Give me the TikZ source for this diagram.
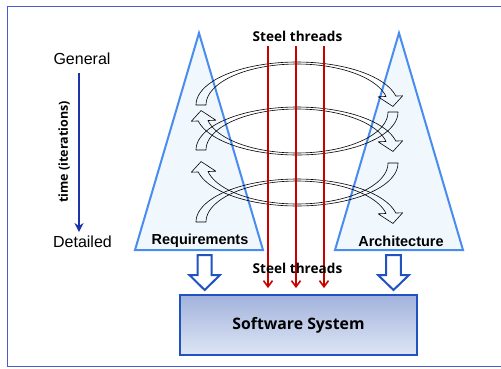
\documentclass[tikz,border=0pt]{standalone}
\usepackage{fontspec}
\setmainfont{Liberation Sans}
\newfontfamily\notofont{Open Sans}
\usetikzlibrary{arrows.meta}
\definecolor{framec}{RGB}{70,92,205}
\definecolor{triedge}{RGB}{72,140,240}
\definecolor{trifill}{RGB}{240,247,253}
\definecolor{steelred}{RGB}{200,0,0}
\definecolor{timeblue}{RGB}{28,52,170}
\definecolor{blkblue}{RGB}{32,82,192}
\definecolor{boxtop}{RGB}{162,178,220}
\definecolor{boxbot}{RGB}{222,230,245}
\newcommand\bandup[1]{%
  \draw[band] plot[domain=-180:-12,samples=60] ({297+101*cos(\x)},{#1+43*sin(\x)})
    -- ({297+108*cos(-12)},{#1+44.4*sin(-12)})
    -- ({297+96*cos(2)},{#1+42*sin(2)})
    -- ({297+83*cos(-12)},{#1+39.4*sin(-12)})
    -- plot[domain=-12:-180,samples=60] ({297+91*cos(\x)},{#1+41*sin(\x)}) -- cycle;}
\newcommand\banddown[1]{%
  \draw[band] plot[domain=0:168,samples=60] ({297+101*cos(\x)},{#1+43*sin(\x)})
    -- ({297+108*cos(168)},{#1+44.4*sin(168)})
    -- ({297+96*cos(182)},{#1+42*sin(182)})
    -- ({297+83*cos(168)},{#1+39.4*sin(168)})
    -- plot[domain=168:0,samples=60] ({297+91*cos(\x)},{#1+41*sin(\x)}) -- cycle;}
\begin{document}
\begin{tikzpicture}[x=1pt,y=-1pt,
  frame/.style={draw=framec,line width=1pt},
  tri/.style={draw=triedge,fill=trifill,line width=2pt,line join=miter},
  band/.style={draw=black,line width=0.6pt,line join=round},
  steel/.style={draw=steelred,line width=2pt,-{Straight Barb[length=6pt,width=9pt,line width=1.6pt]}},
  blk/.style={draw=blkblue,fill=white,line width=2pt,line join=miter},
  lbl/.style={font=\fontsize{14.5}{16}\selectfont\bfseries,inner sep=0pt},
  plain/.style={font=\fontsize{16}{18}\selectfont,inner sep=0pt},
  noto/.style={font=\notofont\fontsize{13.6}{16}\selectfont\bfseries,inner sep=0pt}]
\useasboundingbox (0,0) rectangle (501,368);
\draw[frame] (503,6) -- (7,6) -- (7,366) -- (503,366);
% triangles
\draw[tri] (135,250) -- (199,33) -- (263,250) -- cycle;
\draw[tri] (335,250) -- (399,33) -- (463,250) -- cycle;
% circular bands
\bandup{105}
\banddown{112}
\bandup{150}
\banddown{163}
\bandup{222}
% labels in triangles
\node[lbl] (req) at (200,241) {Requirements};
\node[lbl] (arch) at (401,241) {Architecture};
% time axis
\node[plain] (gen) at (82,59) {General};
\node[plain] (det) at (82.5,242) {Detailed};
\coordinate (tstart) at (79,73);
\coordinate (tend) at (79,232);
\draw[draw=timeblue,line width=2pt,-{Stealth[length=9pt,width=9pt]}] (tstart) -- (tend);
\node[inner sep=0pt,font=\notofont\fontsize{12.5}{14}\selectfont\bfseries,rotate=90] (time) at (64,152) {time (iterations)};
% software system box
\node[draw=blkblue,line width=2pt,top color=boxtop,bottom color=boxbot,
      minimum width=237pt,minimum height=60pt,inner sep=0pt,
      font=\notofont\fontsize{15.8}{18}\selectfont\bfseries] (sys) at (298.5,325) {Software System};
% steel threads
\coordinate (s1) at (268,46);
\coordinate (s2) at (296,46);
\coordinate (s3) at (324,46);
\draw[steel] (s1) -- ([yshift=6pt]s1 |- sys.north);
\draw[steel] (s2) -- ([yshift=6pt]s2 |- sys.north);
\draw[steel] (s3) -- ([yshift=6pt]s3 |- sys.north);
\node[noto] (st1) at (297.5,36) {Steel threads};
\node[noto] (st2) at (297.5,268.5) {Steel threads};
% block arrows
\draw[blk] (197.7,255) -- (211.7,255) -- (211.7,275) -- (220,275) -- (204.7,290)
  -- (189.4,275) -- (197.7,275) -- cycle;
\draw[blk] (386.2,255) -- (400.8,255) -- (400.8,275) -- (409,275) -- (393.5,290)
  -- (378,275) -- (386.2,275) -- cycle;
\end{tikzpicture}
\end{document}
